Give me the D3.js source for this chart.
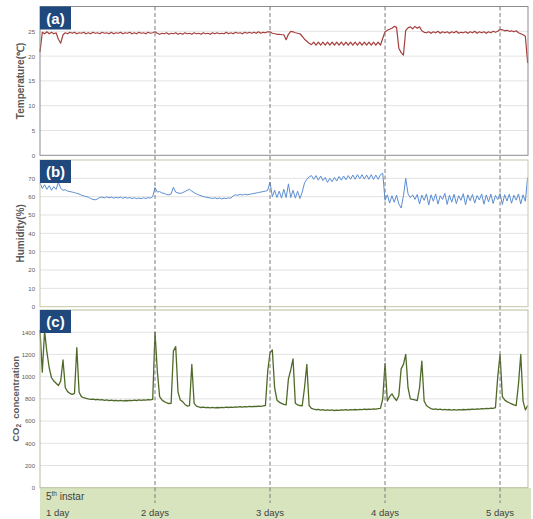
<!DOCTYPE html>
<html>
<head>
<meta charset="utf-8">
<script src="https://cdnjs.cloudflare.com/ajax/libs/d3/7.8.5/d3.min.js"></script>
<style>
  body { margin: 0; background: #fff; }
  svg { display: block; font-family: "Liberation Sans", Arial, sans-serif; }
</style>
</head>
<body>
<div id="chart"></div>
<script>
// samples are 0.02 day apart, starting at the beginning of day 1
var STEP = 0.02;
var dayLabels = ['1 day', '2 days', '3 days', '4 days', '5 days'];
var tempTicks = [0, 5, 10, 15, 20, 25];
var humTicks = [0, 10, 20, 30, 40, 50, 60, 70];
var co2Ticks = [0, 200, 400, 600, 800, 1000, 1200, 1400];

var temperature = [
  20.8, 24.8, 24.5, 24.9, 24.5, 24.8, 24.5, 24.7, 23.4, 22.6, 24.3, 24.7,
  24.5, 24.8, 24.6, 24.8, 24.5, 24.7, 24.6, 24.8, 24.5, 24.7,
  24.5, 24.8, 24.6, 24.7, 24.5, 24.8, 24.6, 24.7, 24.5, 24.8,
  24.5, 24.7, 24.6, 24.8, 24.5, 24.7, 24.6, 24.8, 24.5, 24.7,
  24.5, 24.8, 24.6, 24.7, 24.5, 24.8, 24.6, 24.7,
  24.9,
  24.6, 24.4, 24.6, 24.5, 24.7, 24.4, 24.6, 24.5, 24.7, 24.4,
  24.6, 24.4, 24.7, 24.5, 24.6, 24.4, 24.7, 24.5, 24.6, 24.4,
  24.7, 24.5, 24.6, 24.4, 24.7, 24.5, 24.7, 24.5, 24.6, 24.5,
  24.8, 24.5, 24.7, 24.5, 24.8, 24.6, 24.7, 24.5, 24.8, 24.6,
  24.8, 24.6, 24.8, 24.6, 24.9, 24.6, 24.8, 24.7, 24.9,
  24.9, 24.6, 24.5, 24.4, 24.4, 24.3, 24.3, 23.3, 24.4, 25.0,
  24.9, 24.7, 24.6, 24.5, 24.0, 23.4, 23.0, 22.6, 22.3,
  22.8, 22.2, 22.8, 22.2, 22.8, 22.2, 22.8, 22.2, 22.8, 22.2,
  22.8, 22.2, 22.8, 22.2, 22.8, 22.2, 22.8, 22.2, 22.8, 22.2,
  22.8, 22.2, 22.8, 22.2, 22.8, 22.2, 22.8, 22.2, 22.8, 22.2,
  23.6, 24.9, 25.2, 25.4, 25.6, 26.0, 25.8, 21.6, 20.7, 20.2,
  25.2, 25.7, 25.9, 25.5, 26.0, 25.6, 25.9, 25.1, 24.8,
  24.7, 24.9, 24.6, 24.9, 24.7, 25.0, 24.6, 24.9, 24.7, 24.9,
  24.6, 24.9, 24.7, 25.0, 24.6, 24.8, 24.7, 24.9, 24.6, 24.9,
  24.7, 25.0, 24.6, 24.9, 24.7, 24.9, 24.6, 24.9, 24.7, 25.0,
  24.8, 25.0,
  25.4, 25.3, 25.1, 25.2, 25.0, 25.1, 24.9, 25.1, 24.7, 24.5, 24.3, 24.0, 18.6
];

var humidity = [
  67.5, 64.5, 66.5, 64.0, 66.0, 63.5, 65.5, 64.0, 68.0, 64.5,
  63.5, 63.8, 63.0, 62.8, 62.5, 62.2, 61.8, 61.5, 60.8, 60.5,
  60.0, 59.8, 59.0, 58.5, 58.3, 58.8, 59.6,
  59.8, 59.3, 59.9, 59.4, 59.8, 59.2, 59.7, 59.3, 59.8, 59.1,
  59.6, 59.2, 59.5, 59.0, 59.4, 58.9, 59.3, 58.9, 59.4, 59.0, 59.5, 59.2,
  60.0, 65.0, 62.5, 62.8, 62.0, 61.8, 61.2, 61.0, 61.5, 65.2,
  62.5, 62.0, 61.8, 62.2, 62.8, 63.5, 64.0, 63.0, 62.2, 61.5,
  61.0, 60.5, 60.0, 59.8, 59.5, 59.3,
  59.0, 59.4, 58.9, 59.3, 58.8, 59.2, 59.0, 59.3,
  59.2, 60.5, 61.0, 60.8, 61.2, 60.9, 61.3, 61.0, 61.3, 61.5,
  61.8, 62.0, 62.3, 62.5, 62.8, 63.0, 63.5,
  68.0, 60.0, 63.5, 59.5, 63.0, 59.2, 64.0, 59.5, 67.0, 59.5,
  63.5, 59.2, 63.0, 59.0, 62.5, 67.5, 69.5, 70.8, 71.5,
  69.5, 71.5, 69.0, 71.3, 68.8, 70.5, 67.8, 70.0, 68.2, 70.5,
  68.5, 71.0, 69.0, 71.3, 69.2, 71.5, 69.5, 71.8, 69.5, 72.0,
  69.8, 72.0, 69.6, 71.8, 69.5, 72.0, 69.4, 71.8, 69.5, 72.0,
  72.8, 58.0, 61.0, 56.5, 60.5, 57.0, 60.8, 56.0, 53.8, 60.5, 70.0, 61.5,
  59.5, 61.0, 58.5, 61.2, 56.0, 60.8, 58.0, 61.5, 55.5, 61.0,
  57.5, 61.5, 56.0, 60.5, 58.5, 61.8, 55.8, 60.8, 57.0, 61.3,
  56.2, 60.5, 58.0, 61.6, 55.6, 61.0, 57.8, 61.2, 56.5, 60.6,
  58.2, 61.5, 55.9, 60.9, 57.2, 61.4, 56.3, 60.7, 58.4, 61.7,
  55.7, 61.1, 57.6, 61.3, 56.4, 60.8, 58.1, 61.5, 56.0, 61.0,
  57.5, 70.5
];

var co2 = [
  1420, 1040, 1410, 1220, 1080, 990, 960, 940, 920, 960,
  1150, 900, 865, 850, 840, 850, 1260, 860, 820, 810, 805,
  800, 796, 798, 792, 795, 790, 792, 786, 790, 784,
  788, 783, 787, 782, 786, 781, 785, 783, 787, 784,
  788, 785, 790, 787, 791, 789, 793, 790,
  795, 1400, 1050, 820, 790, 775, 765, 758, 760, 1230,
  1270, 860, 790, 775, 750, 735, 740, 1110, 760, 735,
  728, 722, 726, 720, 724, 719, 723, 718, 722, 720,
  724, 721, 725, 722, 726, 723, 727, 725, 729, 726,
  730, 728, 732, 729, 733, 731, 735, 733, 737,
  740, 1050, 1215, 1240, 900, 790, 770, 760, 750, 745,
  980, 1060, 1160, 760, 745, 740, 738, 900, 1110, 740, 715,
  708, 702, 705, 699, 703, 697, 701, 696, 700, 695,
  699, 697, 701, 698, 702, 699, 703, 700, 704, 701,
  705, 703, 707, 704, 708, 706, 710, 707, 711,
  715, 800, 1120, 780, 820, 845, 810, 785, 830, 1070,
  1110, 1200, 900, 800, 795, 790, 785, 900, 1140, 780, 740, 725,
  712, 706, 709, 703, 707, 701, 705, 700, 704, 699,
  703, 698, 702, 700, 704, 702, 706, 704, 708, 706,
  710, 708, 712, 710, 714, 712, 716, 714,
  720, 1000, 1200, 820, 790, 775, 765, 755, 745, 740, 930, 1200, 780, 700, 740
];

var width = 533;
var height = 519;
var plotLeft = 40;
var plotRight = 528;

var svg = d3.select('#chart')
  .append('svg')
  .attr('width', width)
  .attr('height', height);

var x = d3.scaleLinear().domain([0, 4.243]).range([plotLeft, plotRight]);

var panels = [
  { tag: '(a)', title: 'Temperature(\u2103)', values: temperature, ticks: tempTicks, max: 30,
    top: 6.5, bottom: 155.3, color: '#a53f3e', frame: '#8c8c8c', titleX: 23.5, lineWidth: 1.2 },
  { tag: '(b)', title: 'Humidity(%)', values: humidity, ticks: humTicks, max: 80,
    top: 160, bottom: 306.7, color: '#5b8ed2', frame: '#c4c8a8', titleX: 24, lineWidth: 1 },
  { tag: '(c)', title: 'CO2 concentration', values: co2, ticks: co2Ticks, max: 1600,
    top: 310, bottom: 487.7, color: '#4f6a28', frame: '#b6bd9a', titleX: 18.5, lineWidth: 1.3 }
];

// green band with the day labels under the last panel
svg.append('rect')
  .attr('x', plotLeft)
  .attr('y', 488)
  .attr('width', 491)
  .attr('height', height - 488)
  .attr('fill', '#d7e4bd');

panels.forEach(drawPanel);

// day separators run through all panels into the band
svg.selectAll('.day-line')
  .data([1, 2, 3, 4])
  .enter()
  .append('line')
  .classed('day-line', true)
  .attr('x1', function(d) { return x(d); })
  .attr('x2', function(d) { return x(d); })
  .attr('y1', 6.5)
  .attr('y2', 503)
  .attr('stroke', '#7a7a7a')
  .attr('stroke-width', 1)
  .attr('stroke-dasharray', '4,2.5');

var instar = svg.append('text')
  .attr('x', 46)
  .attr('y', 499.5)
  .attr('font-size', 10)
  .attr('fill', '#3f3f3f');
instar.append('tspan').text('5');
instar.append('tspan').attr('font-size', 6.5).attr('dy', -3.5).text('th');
instar.append('tspan').attr('dy', 3.5).text(' instar');

svg.selectAll('.day-label')
  .data(dayLabels)
  .enter()
  .append('text')
  .classed('day-label', true)
  .attr('x', function(d, i) { return i === 0 ? 46 : x(i); })
  .attr('y', 516)
  .attr('text-anchor', function(d, i) { return i === 0 ? 'start' : 'middle'; })
  .attr('font-size', 9.5)
  .attr('fill', '#3f3f3f')
  .text(function(d) { return d; });

function drawPanel(p) {
  var y = d3.scaleLinear().domain([0, p.max]).range([p.bottom, p.top]);
  var g = svg.append('g');

  g.selectAll('.grid')
    .data(p.ticks.slice(1))
    .enter()
    .append('line')
    .attr('x1', plotLeft)
    .attr('x2', plotRight)
    .attr('y1', function(d) { return y(d); })
    .attr('y2', function(d) { return y(d); })
    .attr('stroke', '#e3e3e3')
    .attr('stroke-width', 1);

  var axis = d3.axisLeft(y)
    .tickValues(p.ticks)
    .tickFormat(d3.format('d'))
    .tickSize(0)
    .tickPadding(5);
  g.append('g')
    .attr('transform', 'translate(' + plotLeft + ',0)')
    .call(axis)
    .call(function(sel) { sel.select('.domain').remove(); })
    .selectAll('text')
    .attr('font-size', 6)
    .attr('font-family', '"Liberation Sans", Arial, sans-serif')
    .attr('fill', '#5a5a5a');

  var line = d3.line()
    .x(function(d, i) { return x(i * STEP); })
    .y(function(d) { return y(d); });

  g.append('path')
    .datum(p.values)
    .attr('d', line)
    .attr('fill', 'none')
    .attr('stroke', p.color)
    .attr('stroke-width', p.lineWidth)
    .attr('stroke-linejoin', 'round');

  g.append('rect')
    .attr('x', plotLeft)
    .attr('y', p.top)
    .attr('width', plotRight - plotLeft)
    .attr('height', p.bottom - p.top)
    .attr('fill', 'none')
    .attr('stroke', p.frame)
    .attr('stroke-width', 1);

  g.append('rect')
    .attr('x', plotLeft)
    .attr('y', p.top)
    .attr('width', 31)
    .attr('height', 23)
    .attr('fill', '#1f497d');

  g.append('text')
    .attr('x', plotLeft + 15.5)
    .attr('y', p.top + 17)
    .attr('text-anchor', 'middle')
    .attr('font-size', 15)
    .attr('font-weight', 'bold')
    .attr('fill', '#fff')
    .text(p.tag);

  var midY = (p.top + p.bottom) / 2;
  var title = g.append('text')
    .attr('transform', 'translate(' + p.titleX + ',' + midY + ') rotate(-90)')
    .attr('text-anchor', 'middle')
    .attr('font-size', 10)
    .attr('font-weight', 'bold')
    .attr('fill', '#595959');

  if (p.tag === '(c)') {
    // CO2 gets a real subscript
    title.attr('font-size', 9.5);
    title.append('tspan').text('CO');
    title.append('tspan').attr('font-size', 6.5).attr('dy', 2.5).text('2');
    title.append('tspan').attr('dy', -2.5).text('\u00a0 concentration');
  } else {
    title.text(p.title);
  }
}
</script>
</body>
</html>
